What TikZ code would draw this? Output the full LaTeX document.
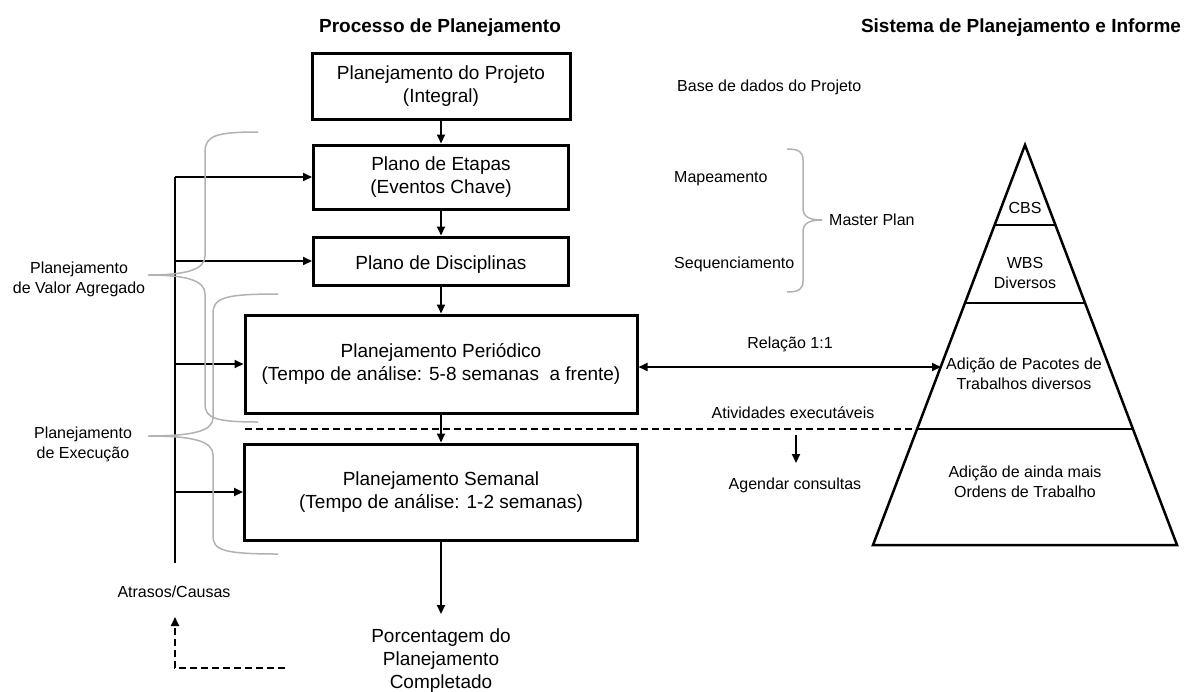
\documentclass[tikz,border=0pt]{standalone}
\usepackage{fontspec}
\setmainfont{Liberation Sans}
\usetikzlibrary{arrows.meta}
\begin{document}
\begin{tikzpicture}[x=1pt,y=-1pt,
  big/.style={font=\fontsize{19}{23}\selectfont, align=center, inner sep=0pt},
  small/.style={font=\fontsize{16}{20}\selectfont, align=center, inner sep=0pt},
  head/.style={font=\fontsize{19}{23}\selectfont\bfseries, inner sep=0pt},
  procbox/.style={draw, line width=3pt, big, execute at begin node={\rule{0pt}{21pt}}},
  flow/.style={line width=2pt, -{Triangle[length=9pt,width=8pt]}},
  both/.style={line width=2pt, {Triangle[length=9pt,width=8pt]}-{Triangle[length=9pt,width=8pt]}},
  dashline/.style={line width=2pt, dash pattern=on 7pt off 4pt},
  bracecurve/.style={draw=gray!60, line width=1.5pt},
  pyr/.style={line width=2.5pt}]
\useasboundingbox (0,0) rectangle (1190,691);

% headers
\node[head] (h1) at (440,28) {Processo de Planejamento};
\node[head] (h2) at (1021,28) {Sistema de Planejamento e Informe};

% process boxes
\node[procbox, minimum width=258pt, minimum height=66pt] (box1) at (441,86) {Planejamento do Projeto\\(Integral)};
\node[procbox, minimum width=255pt, minimum height=64pt] (box2) at (441,177) {Plano de Etapas\\(Eventos Chave)};
\node[procbox, minimum width=255pt, minimum height=48pt] (box3) at (441,261) {Plano de Disciplinas};
\node[procbox, minimum width=392pt, minimum height=98pt] (box4) at (441,364) {Planejamento Peri\'odico\\(Tempo de an\'alise: 5-8 semanas~ a frente)};
\node[procbox, minimum width=393pt, minimum height=96pt] (box5) at (441,492) {Planejamento Semanal\\(Tempo de an\'alise: 1-2 semanas)};

\draw[flow] (box1.south) -- (box2.north);
\draw[flow] (box2.south) -- (box3.north);
\draw[flow] (box3.south) -- (box4.north);
\draw[flow] (box4.south) -- (box5.north);

% output
\coordinate (outtip) at (441,614);
\draw[flow] (box5.south) -- (outtip);
\node[big] (out) at (441,661) {Porcentagem do\\Planejamento\\Completado};

% left trunk
\coordinate (ttop) at (175,177);
\coordinate (t3) at (175,261);
\coordinate (t4) at (175,364);
\coordinate (t5) at (175,492);
\coordinate (tbot) at (175,563);
\draw[line width=2pt] (ttop) -- (tbot);
\draw[flow] (ttop) -- (box2.west);
\draw[flow] (t3) -- (box3.west);
\draw[flow] (t4) -- (box4.west);
\draw[flow] (t5) -- (box5.west);

\node[small] (atr) at (174,592) {Atrasos/Causas};
\coordinate (fb1) at (285,668);
\coordinate (fb2) at (175,668);
\coordinate (fb3) at (175,617);
\draw[dashline, -{Triangle[length=9pt,width=8pt]}] (fb1) -- (fb2) -- (fb3);

% left braces
\draw[bracecurve] (258,132) .. controls (215,132) and (205,136) .. (205,152) -- (205,256)
  .. controls (205,270) and (185,275) .. (148,275)
  .. controls (185,275) and (205,280) .. (205,294) -- (205,404)
  .. controls (205,418) and (215,422) .. (258,422);
\draw[bracecurve] (278,294) .. controls (223,294) and (213,298) .. (213,314) -- (213,418)
  .. controls (213,431) and (193,436) .. (148,436)
  .. controls (193,436) and (213,441) .. (213,455) -- (213,536)
  .. controls (213,550) and (223,554) .. (278,554);
\node[small] (pva) at (79,279) {Planejamento\\de Valor Agregado};
\node[small] (pex) at (83,444) {Planejamento\\de Execu\c{c}\~ao};

% middle texts
\node[small, anchor=west] (base) at (677,87) {Base de dados do Projeto};
\node[small, anchor=west] (map) at (674,179) {Mapeamento};
\node[small, anchor=west] (seq) at (674,264) {Sequenciamento};
\node[small, anchor=west] (mp) at (829,220) {Master Plan};
\draw[bracecurve] (787,149) .. controls (799,149) and (803,152) .. (803,160) -- (803,208)
  .. controls (803,216) and (808,220) .. (822,220)
  .. controls (808,220) and (803,224) .. (803,232) -- (803,281)
  .. controls (803,289) and (799,292) .. (787,292);

\node[small] (rel) at (790,344) {Rela\c{c}\~ao 1:1};
\coordinate (pyrhit) at (941,367);
\draw[both] (box4.east |- pyrhit) -- (pyrhit);

\node[small] (ativ) at (793,413) {Atividades execut\'aveis};
\coordinate (dl1) at (245,429);
\coordinate (dl2) at (917,429);
\draw[dashline] (dl1) -- (dl2);
\coordinate (sa1) at (796,435);
\coordinate (sa2) at (796,463);
\draw[flow] (sa1) -- (sa2);
\node[small] (ag) at (795,485) {Agendar consultas};

% pyramid
\draw[pyr] (1025,145) -- (1177,545) -- (873,545) -- cycle;
\draw[pyr] (994.6,225) -- (1055.4,225);
\draw[pyr] (965,303) -- (1085,303);
\draw[pyr] (917,429) -- (1133,429);
\node[small] (cbs) at (1025,208) {CBS};
\node[small] (wbs) at (1025,273) {WBS\\Diversos};
\node[small] (pac) at (1024,374) {Adi\c{c}\~ao de Pacotes de\\Trabalhos diversos};
\node[small] (ord) at (1025,482) {Adi\c{c}\~ao de ainda mais\\Ordens de Trabalho};
\end{tikzpicture}
\end{document}
